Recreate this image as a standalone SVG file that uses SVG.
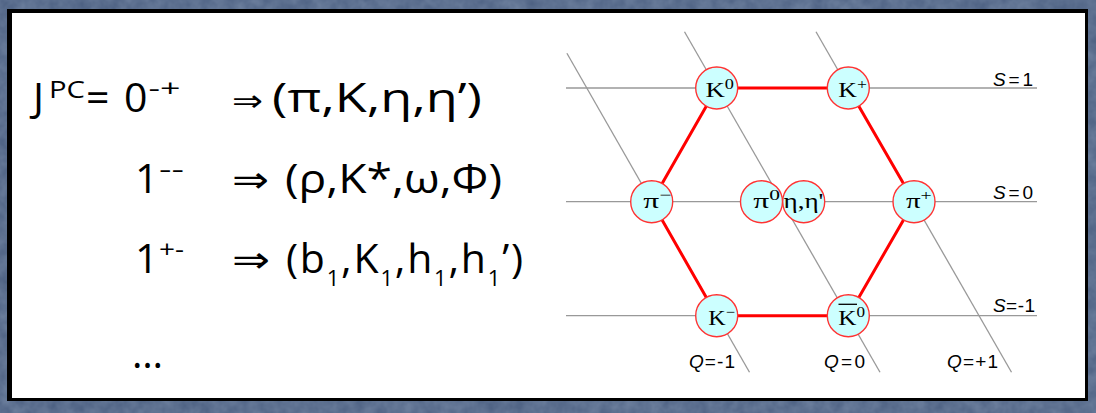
<svg xmlns="http://www.w3.org/2000/svg" width="1096" height="413" viewBox="0 0 1096 413">
  <defs>
    <filter id="tex" x="0" y="0" width="100%" height="100%">
      <feTurbulence type="fractalNoise" baseFrequency="0.08" numOctaves="3" seed="4" result="n"/>
      <feColorMatrix in="n" type="matrix" values="0 0 0 0 0.27  0 0 0 0 0.35  0 0 0 0 0.49  0 0 0 0.55 0"/>
    </filter>
    <style>
      .main { font-family: "Open Sans", "Noto Sans", "DejaVu Sans", sans-serif; font-size: 41px; fill: #000; }
      .sup { font-size: 23px; }
      .arr { font-family: "DejaVu Sans", sans-serif; }
      .grid { stroke: #999; stroke-width: 1.3; fill: none; }
      .hex { stroke: #ff0000; stroke-width: 3; fill: none; }
      .node circle { fill: #ccffff; stroke: #ff3333; stroke-width: 1.4; }
      .node text { font-family: "Liberation Serif", "Times New Roman", serif; font-size: 22px; fill: #000; }
      .node .s { font-size: 15px; }
      .lbl { font-family: "Liberation Sans", Arial, sans-serif; font-size: 19px; fill: #000; }
    </style>
  </defs>

  <!-- background -->
  <rect x="0" y="0" width="1096" height="413" fill="#4a5e80"/>
  <rect x="0" y="0" width="1096" height="413" filter="url(#tex)"/>
  <rect x="7" y="9" width="1081" height="392" fill="#000"/>
  <rect x="12" y="13" width="1073" height="385" fill="#fff"/>

  <!-- left text -->
  <g id="line1" class="main">
    <text x="33" y="112">J</text>
    <text x="49" y="98" class="sup" textLength="36" lengthAdjust="spacingAndGlyphs">PC</text>
    <text x="86" y="112">=</text>
    <text x="124" y="112">0</text>
    <text x="148.5" y="97" class="sup" textLength="32" lengthAdjust="spacingAndGlyphs">-+</text>
    <text x="232" y="111" class="arr" font-size="30" textLength="31" lengthAdjust="spacingAndGlyphs">⇒</text>
    <text x="272" y="112" textLength="210" lengthAdjust="spacingAndGlyphs">(π,K,η,η’)</text>
  </g>
  <g id="line2" class="main">
    <text x="135" y="193">1</text>
    <text x="159" y="178" class="sup" textLength="25" lengthAdjust="spacingAndGlyphs">--</text>
    <text x="232" y="192" class="arr" font-size="36" textLength="37" lengthAdjust="spacingAndGlyphs">⇒</text>
    <text x="285" y="193" textLength="217" lengthAdjust="spacingAndGlyphs">(ρ,K*,ω,Φ)</text>
  </g>
  <g id="line3" class="main">
    <text x="135" y="273">1</text>
    <text x="159" y="258" class="sup" textLength="25" lengthAdjust="spacingAndGlyphs">+-</text>
    <text x="232" y="272" class="arr" font-size="36" textLength="38" lengthAdjust="spacingAndGlyphs">⇒</text>
    <text x="286" y="273" textLength="237">(b<tspan dy="13" font-size="22">1</tspan><tspan dy="-13">,K</tspan><tspan dy="13" font-size="22">1</tspan><tspan dy="-13">,h</tspan><tspan dy="13" font-size="22">1</tspan><tspan dy="-13">,h</tspan><tspan dy="13" font-size="22">1</tspan><tspan dy="-13">’)</tspan></text>
  </g>
  <g id="dots" class="main">
    <text x="132" y="368" textLength="31" lengthAdjust="spacingAndGlyphs">…</text>
  </g>

  <!-- connectors: grid + hexagon -->
  <g id="connectors">
    <line class="grid" x1="566" y1="88" x2="1037" y2="88"/>
    <line class="grid" x1="566" y1="201.7" x2="1037" y2="201.7"/>
    <line class="grid" x1="566" y1="315.7" x2="1037" y2="315.7"/>
    <line class="grid" x1="566.9" y1="53.3" x2="749.5" y2="372.3"/>
    <line class="grid" x1="684.5" y1="31.7" x2="880" y2="372.3"/>
    <line class="grid" x1="816" y1="31.7" x2="1011.5" y2="372.3"/>
    <polygon class="hex" points="716.7,88 848.3,88 914,201.7 848.3,315.7 716.7,315.7 651.7,201.7"/>
  </g>

  <!-- labels -->
  <g id="labels" class="lbl">
    <text x="993" y="85.5" textLength="40"><tspan font-style="italic">S</tspan>=1</text>
    <text x="993" y="199" textLength="40"><tspan font-style="italic">S</tspan>=0</text>
    <text x="993" y="312.3" textLength="42"><tspan font-style="italic">S</tspan>=-1</text>
    <text x="689" y="368.3" textLength="46"><tspan font-style="italic">Q</tspan>=-1</text>
    <text x="824" y="368.3" textLength="41"><tspan font-style="italic">Q</tspan>=0</text>
    <text x="947" y="368.3" textLength="51"><tspan font-style="italic">Q</tspan>=+1</text>
  </g>

  <!-- nodes -->
  <g id="K0" class="node">
    <circle cx="716.7" cy="88" r="21"/>
    <text x="705.5" y="96.5" textLength="28.5" lengthAdjust="spacingAndGlyphs">K<tspan class="s" dy="-8">0</tspan></text>
  </g>
  <g id="Kplus" class="node">
    <circle cx="848.3" cy="88" r="21"/>
    <text x="838.3" y="96.5" textLength="28.5" lengthAdjust="spacingAndGlyphs">K<tspan class="s" dy="-8">+</tspan></text>
  </g>
  <g id="piminus" class="node">
    <circle cx="651.7" cy="201.7" r="21"/>
    <text x="643.3" y="208" textLength="28" lengthAdjust="spacingAndGlyphs">π<tspan class="s" dy="-8">−</tspan></text>
  </g>
  <g id="pi0" class="node">
    <circle cx="761.5" cy="201.7" r="21"/>
    <text x="753.3" y="207.5" textLength="26.7" lengthAdjust="spacingAndGlyphs">π<tspan class="s" dy="-8">0</tspan></text>
  </g>
  <g id="eta" class="node">
    <circle cx="803.7" cy="201.7" r="21"/>
    <text x="783.5" y="207.5" textLength="40" lengthAdjust="spacingAndGlyphs">η,η'</text>
  </g>
  <g id="piplus" class="node">
    <circle cx="914" cy="201.7" r="21"/>
    <text x="906" y="208" textLength="25.7" lengthAdjust="spacingAndGlyphs">π<tspan class="s" dy="-8">+</tspan></text>
  </g>
  <g id="Kminus" class="node">
    <circle cx="716.7" cy="315.7" r="21"/>
    <text x="708.3" y="324.5" textLength="26.7" lengthAdjust="spacingAndGlyphs">K<tspan class="s" dy="-8">−</tspan></text>
  </g>
  <g id="K0bar" class="node">
    <circle cx="848.3" cy="315.7" r="21"/>
    <line x1="838.5" y1="304.3" x2="857" y2="304.3" stroke="#000" stroke-width="1.3"/>
    <text x="838.3" y="324.5" textLength="26.7" lengthAdjust="spacingAndGlyphs">K<tspan class="s" dy="-8">0</tspan></text>
  </g>
</svg>
